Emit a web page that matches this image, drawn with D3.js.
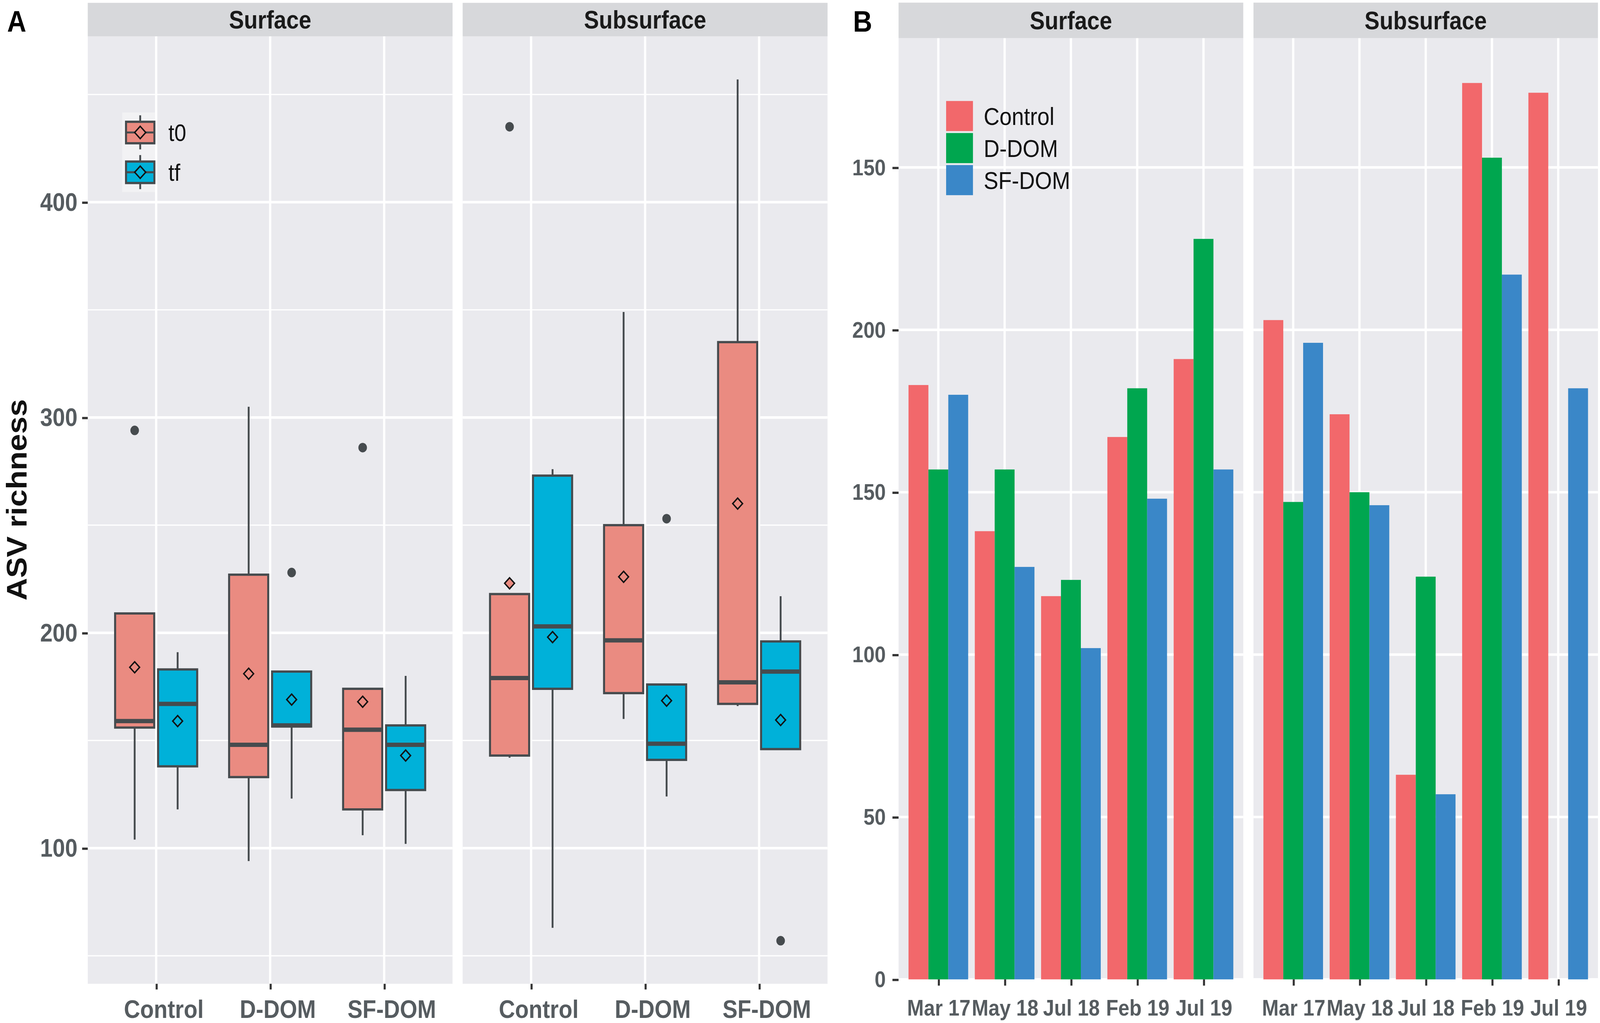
<!DOCTYPE html>
<html>
<head>
<meta charset="utf-8">
<script src="https://cdn.jsdelivr.net/npm/d3@7"></script>
<style>
  html, body { margin: 0; padding: 0; width: 100%; height: 100%; overflow: hidden; background: #fff; }
  #chart { display: block; width: 100vw; height: 100vh; }
  text { font-family: "Liberation Sans", Arial, sans-serif; }
</style>
</head>
<body>
<svg id="chart"></svg>
<script>
// ---------- data ----------
// Panel A: boxplots of ASV richness
const treatments = ["Control", "D-DOM", "SF-DOM"];
const times = ["t0", "tf"];
// [treatment, time, whiskerLow, q1, median, q3, whiskerHigh, mean]
const surfaceBoxes = [
  ["Control", "t0", 104, 156, 159, 209, 209, 184],
  ["Control", "tf", 118, 138, 167, 183, 191, 159],
  ["D-DOM", "t0", 94, 133, 148, 227, 305, 181],
  ["D-DOM", "tf", 123, 156.5, 157, 182, 182, 169],
  ["SF-DOM", "t0", 106, 118, 155, 174, 174, 168],
  ["SF-DOM", "tf", 102, 127, 148, 157, 180, 143]
];
const subsurfaceBoxes = [
  ["Control", "t0", 142, 143, 179, 218, 218, 223],
  ["Control", "tf", 63, 174, 203, 273, 276, 198],
  ["D-DOM", "t0", 160, 172, 196.5, 250, 349, 226],
  ["D-DOM", "tf", 124, 141, 148.5, 176, 176, 168.5],
  ["SF-DOM", "t0", 166, 167, 177, 335, 457, 260],
  ["SF-DOM", "tf", 146, 146, 182, 196, 217, 159.5]
];
// [treatment, time, value]
const surfaceOutliers = [["Control", "t0", 294], ["D-DOM", "tf", 228], ["SF-DOM", "t0", 286]];
const subsurfaceOutliers = [["Control", "t0", 435], ["D-DOM", "tf", 253], ["SF-DOM", "tf", 57]];
const aTicks = [100, 200, 300, 400];
const aMinor = [50, 150, 250, 350, 450];

// Panel B: bar chart
const dates = ["Mar 17", "May 18", "Jul 18", "Feb 19", "Jul 19"];
const doms = ["Control", "D-DOM", "SF-DOM"];
const surfaceControl = [183, 138, 118, 167, 191];
const surfaceDDOM = [157, 157, 123, 182, 228];
const surfaceSFDOM = [180, 127, 102, 148, 157];
const subsurfaceControl = [203, 174, 63, 276, 273];
const subsurfaceDDOM = [147, 150, 124, 253, 0];
const subsurfaceSFDOM = [196, 146, 57, 217, 182];
const bTicks = [0, 50, 100, 150, 200, 250];
const bTickLabels = ["0", "50", "100", "150", "200", "150"];

// ---------- setup ----------
const W = 1568, H = 900.5;
const svg = d3.select("#chart")
  .attr("viewBox", `0 0 ${W} ${H}`)
  .attr("preserveAspectRatio", "none");

const panelFill = "#EAEAEE", stripFill = "#D7D8DB", keyFill = "#F2F2F4";
const tickCol = "#333333", labCol = "#565c60", lineCol = "#464b4e";
const timeFill = { t0: "#EA8B81", tf: "#00B1D9" };
const domFill = { "Control": "#F2686B", "D-DOM": "#00A64F", "SF-DOM": "#3A87C8" };

function drawFacet(x0, x1, yStrip, yTop, yBottom, label) {
  svg.append("rect").attr("x", x0).attr("y", yStrip)
    .attr("width", x1 - x0).attr("height", yTop - yStrip).attr("fill", stripFill);
  svg.append("text").attr("x", (x0 + x1) / 2).attr("y", (yStrip + yTop) / 2)
    .attr("dy", "0.36em").attr("text-anchor", "middle")
    .attr("font-size", 22).attr("font-weight", "bold").attr("fill", "#1a1a1a")
    .text(label);
  svg.append("rect").attr("x", x0).attr("y", yTop)
    .attr("width", x1 - x0).attr("height", yBottom - yTop).attr("fill", panelFill);
  return svg.append("g");
}

function styleAxis(g, size) {
  g.select(".domain").remove();
  g.selectAll(".tick line").attr("stroke", tickCol).attr("stroke-width", 2);
  g.selectAll(".tick text").attr("fill", labCol).attr("font-size", size)
    .attr("font-weight", "bold").attr("font-family", "Liberation Sans, Arial, sans-serif");
}

// ---------- Panel A ----------
const aStrip = 2.5, aTop = 32, aBottom = 866;
const aFacets = [
  { name: "Surface", x0: 86, x1: 443.5, boxes: surfaceBoxes, outs: surfaceOutliers },
  { name: "Subsurface", x0: 453.4, x1: 811, boxes: subsurfaceBoxes, outs: subsurfaceOutliers }
];
const allA = [];
aFacets.forEach(f => {
  f.boxes.forEach(b => allA.push(b[2], b[6]));
  f.outs.forEach(o => allA.push(o[2]));
});
const [aMin, aMax] = d3.extent(allA);
const aPad = (aMax - aMin) * 0.05;
const yA = d3.scaleLinear().domain([aMin - aPad, aMax + aPad]).range([aBottom, aTop]);

aFacets.forEach(f => {
  const g = drawFacet(f.x0, f.x1, aStrip, aTop, aBottom, f.name);
  const x = d3.scalePoint().domain(treatments).range([f.x0, f.x1]).padding(0.6);
  const step = x.step();
  const xt = d3.scaleBand().domain(times).range([-0.36 * step, 0.36 * step]).paddingInner(0.09);
  const bw = xt.bandwidth();

  g.selectAll(".minor").data(aMinor).join("line")
    .attr("x1", f.x0).attr("x2", f.x1).attr("y1", d => yA(d)).attr("y2", d => yA(d))
    .attr("stroke", "#fff").attr("stroke-width", 1.1);
  g.selectAll(".major").data(aTicks).join("line")
    .attr("x1", f.x0).attr("x2", f.x1).attr("y1", d => yA(d)).attr("y2", d => yA(d))
    .attr("stroke", "#fff").attr("stroke-width", 2.2);
  g.selectAll(".vmajor").data(treatments).join("line")
    .attr("x1", d => x(d)).attr("x2", d => x(d)).attr("y1", aTop).attr("y2", aBottom)
    .attr("stroke", "#fff").attr("stroke-width", 2.2);

  const cx = b => x(b[0]) + xt(b[1]) + bw / 2;
  const box = g.selectAll(".box").data(f.boxes).join("g");
  box.append("line").attr("x1", cx).attr("x2", cx)
    .attr("y1", d => yA(d[6])).attr("y2", d => yA(d[5]))
    .attr("stroke", lineCol).attr("stroke-width", 1.8);
  box.append("line").attr("x1", cx).attr("x2", cx)
    .attr("y1", d => yA(d[3])).attr("y2", d => yA(d[2]))
    .attr("stroke", lineCol).attr("stroke-width", 1.8);
  box.append("rect").attr("x", d => x(d[0]) + xt(d[1])).attr("width", bw)
    .attr("y", d => yA(d[5])).attr("height", d => yA(d[3]) - yA(d[5]))
    .attr("fill", d => timeFill[d[1]]).attr("stroke", lineCol).attr("stroke-width", 2);
  box.append("line").attr("x1", d => x(d[0]) + xt(d[1])).attr("x2", d => x(d[0]) + xt(d[1]) + bw)
    .attr("y1", d => yA(d[4])).attr("y2", d => yA(d[4]))
    .attr("stroke", lineCol).attr("stroke-width", 3.8);
  box.append("path")
    .attr("d", d3.symbol(d3.symbolDiamond2, 60))
    .attr("transform", d => `translate(${cx(d)},${yA(d[7])})`)
    .attr("fill", d => timeFill[d[1]]).attr("stroke", "#111").attr("stroke-width", 1.3);

  g.selectAll(".out").data(f.outs).join("circle")
    .attr("cx", cx).attr("cy", d => yA(d[2])).attr("r", 4.2)
    .attr("fill", lineCol);

  const xa = svg.append("g").attr("transform", `translate(0,${aBottom})`)
    .call(d3.axisBottom(x).tickSize(5).tickPadding(9.5));
  styleAxis(xa, 22);
  xa.selectAll(".tick text").attr("dx", 7);
});

const ya = svg.append("g").attr("transform", `translate(${aFacets[0].x0},0)`)
  .call(d3.axisLeft(yA).tickValues(aTicks).tickSize(5.5).tickPadding(4.5));
styleAxis(ya, 22);

svg.append("text").attr("transform", "translate(26,440) rotate(-90)")
  .attr("text-anchor", "middle").attr("font-size", 27.5).attr("font-weight", "bold")
  .attr("fill", "#111").text("ASV richness");

svg.append("text").attr("x", 7).attr("y", 28).attr("font-size", 26)
  .attr("font-weight", "bold").attr("fill", "#000").text("A");

// legend A
const legA = svg.append("g");
times.forEach((t, i) => {
  const top = 99 + i * 35;
  legA.append("rect").attr("x", 119.7).attr("y", top).attr("width", 32.3).attr("height", 35).attr("fill", keyFill);
  legA.append("line").attr("x1", 137.4).attr("x2", 137.4).attr("y1", top + 2.5).attr("y2", top + 32.5)
    .attr("stroke", lineCol).attr("stroke-width", 1.8);
  legA.append("rect").attr("x", 123.5).attr("y", top + 8.2).attr("width", 27.8).attr("height", 18.9)
    .attr("fill", timeFill[t]).attr("stroke", lineCol).attr("stroke-width", 2);
  legA.append("line").attr("x1", 123.5).attr("x2", 151.3).attr("y1", top + 17.6).attr("y2", top + 17.6)
    .attr("stroke", lineCol).attr("stroke-width", 1.8);
  legA.append("path").attr("d", d3.symbol(d3.symbolDiamond2, 75))
    .attr("transform", `translate(137.4,${top + 17.6})`)
    .attr("fill", timeFill[t]).attr("stroke", "#111").attr("stroke-width", 1.3);
  legA.append("text").attr("x", 165).attr("y", top + 17.6).attr("dy", "0.36em")
    .attr("font-size", 21).attr("fill", "#111").text(t);
});

// ---------- Panel B ----------
const bStrip = 2.3, bTop = 33.6, bBottom = 862.1;
const bFacets = [
  { name: "Surface", x0: 880.6, x1: 1218.4, series: [surfaceControl, surfaceDDOM, surfaceSFDOM] },
  { name: "Subsurface", x0: 1228.4, x1: 1566, series: [subsurfaceControl, subsurfaceDDOM, subsurfaceSFDOM] }
];
const bMax = d3.max(bFacets.flatMap(f => f.series.flat()));
const yB = d3.scaleLinear().domain([0, bMax * 1.05]).range([bBottom, bTop]);

bFacets.forEach(f => {
  const g = drawFacet(f.x0, f.x1, bStrip, bTop, bBottom, f.name);
  const x = d3.scalePoint().domain(dates).range([f.x0, f.x1]).padding(0.6);
  const step = x.step();
  const xd = d3.scaleBand().domain(doms).range([-0.45 * step, 0.45 * step]).padding(0);

  g.selectAll(".major").data(bTicks).join("line")
    .attr("x1", f.x0).attr("x2", f.x1).attr("y1", d => yB(d)).attr("y2", d => yB(d))
    .attr("stroke", "#fff").attr("stroke-width", 2.2);
  g.selectAll(".vmajor").data(dates).join("line")
    .attr("x1", d => x(d)).attr("x2", d => x(d)).attr("y1", bTop).attr("y2", bBottom)
    .attr("stroke", "#fff").attr("stroke-width", 2.2);

  const rows = [];
  doms.forEach((dm, k) => dates.forEach((dt, j) => rows.push({ dom: dm, date: dt, v: f.series[k][j] })));
  g.selectAll(".bar").data(rows).join("rect")
    .attr("x", d => x(d.date) + xd(d.dom)).attr("width", xd.bandwidth())
    .attr("y", d => yB(d.v)).attr("height", d => yB(0) - yB(d.v))
    .attr("fill", d => domFill[d.dom]);

  const xa = svg.append("g").attr("transform", `translate(0,${bBottom})`)
    .call(d3.axisBottom(x).tickSize(5.5).tickPadding(12.5));
  styleAxis(xa, 19.6);
});

const yb = svg.append("g").attr("transform", `translate(${bFacets[0].x0},0)`)
  .call(d3.axisLeft(yB).tickValues(bTicks).tickFormat((d, i) => bTickLabels[i]).tickSize(6).tickPadding(6.5));
styleAxis(yb, 19.7);

svg.append("text").attr("x", 836).attr("y", 28).attr("font-size", 26)
  .attr("font-weight", "bold").attr("fill", "#000").text("B");

// legend B
const legB = svg.append("g");
doms.forEach((dm, i) => {
  const top = 88.9 + i * 28.2;
  legB.append("rect").attr("x", 927.2).attr("y", top).attr("width", 26.3).attr("height", 26.5)
    .attr("fill", domFill[dm]);
  legB.append("text").attr("x", 964).attr("y", top + 13.2).attr("dy", "0.36em")
    .attr("font-size", 21.5).attr("fill", "#111").text(dm);
});
</script>
</body>
</html>
